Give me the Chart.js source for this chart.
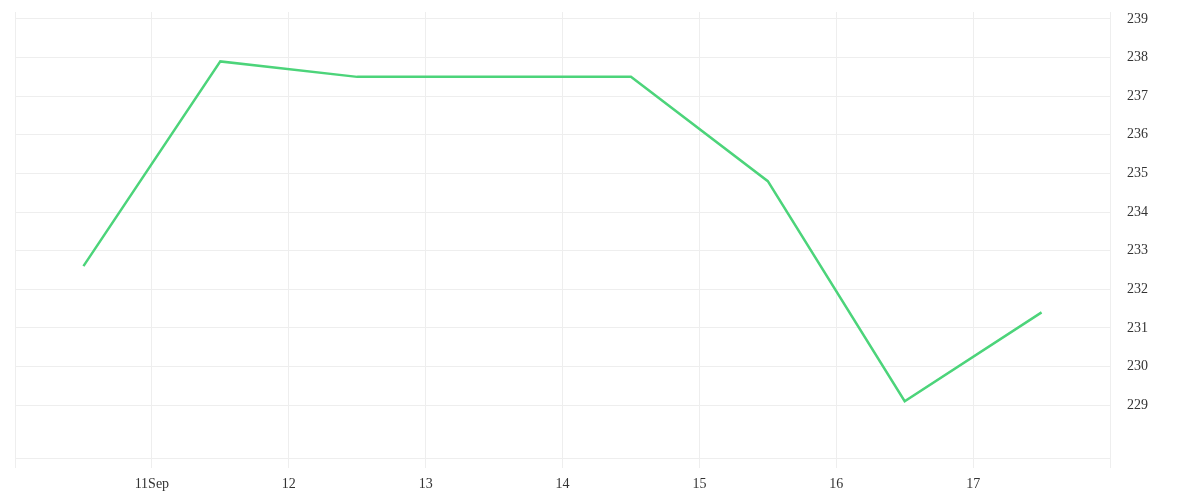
<!DOCTYPE html>
<html>
<head>
<meta charset="utf-8">
<script src="https://cdn.jsdelivr.net/npm/chart.js@4/dist/chart.umd.min.js"></script>
<style>
  html, body { margin: 0; padding: 0; background: #fff; }
  #wrap { width: 1200px; height: 500px; }
</style>
</head>
<body>
<div id="wrap"><canvas id="chart"></canvas></div>
<script>
// --------------------
// Data
// --------------------
const days = [10.5, 11.5, 12.5, 13.5, 14.5, 15.5, 16.5, 17.5];
const values = [232.6, 237.9, 237.5, 237.5, 237.5, 234.8, 229.1, 231.4];
const yTicks = [229, 230, 231, 232, 233, 234, 235, 236, 237, 238, 239];
const xTicks = [10, 11, 12, 13, 14, 15, 16, 17, 18];
const xLabels = { 11: '11Sep', 12: '12', 13: '13', 14: '14', 15: '15', 16: '16', 17: '17' };

const gridColor = '#eeeeee';
const font = { family: '"Liberation Serif", serif', size: 14 };

// --------------------
// Chart
// --------------------
const ctx = document.getElementById('chart').getContext('2d');
new Chart(ctx, {
  type: 'line',
  data: {
    datasets: [{
      data: days.map((d, i) => ({ x: d, y: values[i] })),
      borderColor: '#4cd47a',
      borderWidth: 2.5,
      pointRadius: 0,
      tension: 0,
      fill: false
    }]
  },
  options: {
    responsive: true,
    maintainAspectRatio: false,
    animation: false,
    layout: { padding: { left: 15, top: 12, right: 10, bottom: 0 } },
    plugins: { legend: { display: false }, tooltip: { enabled: false } },
    scales: {
      x: {
        type: 'linear',
        min: 10,
        max: 18,
        afterBuildTicks: axis => { axis.ticks = xTicks.map(v => ({ value: v })); },
        afterFit: axis => { axis.paddingLeft = 0; axis.paddingRight = 0; axis.height = 42; },
        grid: { color: gridColor, tickLength: 10 },
        border: { color: gridColor },
        ticks: {
          autoSkip: false,
          maxRotation: 0,
          color: '#333',
          font: font,
          padding: 8,
          callback: v => xLabels[v] || ''
        }
      },
      y: {
        position: 'right',
        min: 227.63,
        max: 239.18,
        afterBuildTicks: axis => { axis.ticks = yTicks.map(v => ({ value: v })); },
        afterFit: axis => { axis.width = 80; axis.paddingTop = 0; axis.paddingBottom = 0; },
        grid: { color: gridColor, drawTicks: false },
        border: { color: gridColor },
        ticks: {
          color: '#333',
          font: font,
          padding: 17
        }
      }
    }
  }
});
</script>
</body>
</html>
